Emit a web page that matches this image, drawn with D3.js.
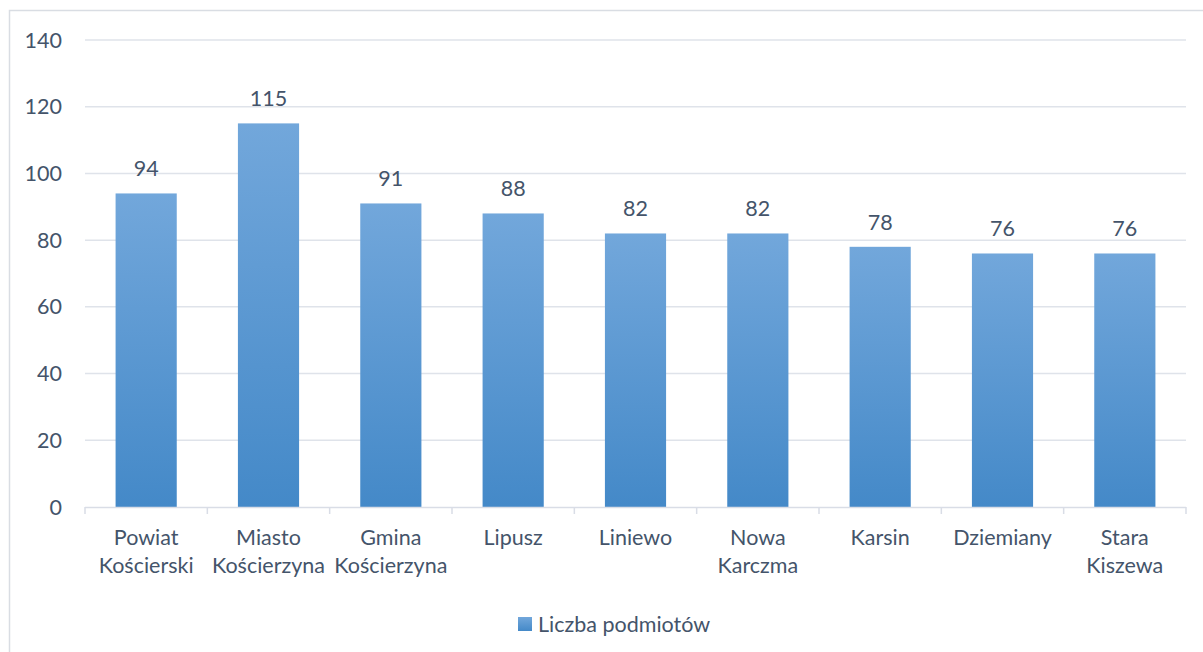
<!DOCTYPE html>
<html>
<head>
<meta charset="utf-8">
<script src="https://cdn.jsdelivr.net/npm/d3@7"></script>
<style>
  body { margin: 0; background: #fff; }
  text { font-family: Lato, "Noto Sans", sans-serif; fill: #44546a; }
</style>
</head>
<body>
<svg id="chart" width="1203" height="652"></svg>
<script>
// data
const categories = [
  ["Powiat", "Kościerski"],
  ["Miasto", "Kościerzyna"],
  ["Gmina", "Kościerzyna"],
  ["Lipusz"],
  ["Liniewo"],
  ["Nowa", "Karczma"],
  ["Karsin"],
  ["Dziemiany"],
  ["Stara", "Kiszewa"]
];
const values = [94, 115, 91, 88, 82, 82, 78, 76, 76];
const yTicks = [0, 20, 40, 60, 80, 100, 120, 140];
const seriesName = "Liczba podmiotów";

const svg = d3.select("#chart");
const plotL = 85, plotR = 1186, plotT = 40, plotB = 507;
const fs = 21.5;

// outer frame
svg.append("rect")
  .attr("x", 9.5).attr("y", 10.5)
  .attr("width", 1203).attr("height", 660)
  .attr("fill", "none").attr("stroke", "#d9dde3").attr("stroke-width", 1.5);

const grad = svg.append("defs").append("linearGradient")
  .attr("id", "barGrad").attr("x1", 0).attr("y1", 0).attr("x2", 0).attr("y2", 1);
grad.append("stop").attr("offset", "0%").attr("stop-color", "#72a7db");
grad.append("stop").attr("offset", "100%").attr("stop-color", "#4489c8");

const idx = d3.range(values.length);
const x = d3.scaleBand().domain(idx).range([plotL, plotR]).paddingInner(0.5).paddingOuter(0.25);
const xTick = d3.scaleBand().domain(idx).range([plotL, plotR]);
const y = d3.scaleLinear().domain([0, 140]).range([plotB, plotT]);

// gridlines
svg.append("g").selectAll("line")
  .data(yTicks.filter(d => d > 0))
  .join("line")
  .attr("x1", plotL).attr("x2", plotR)
  .attr("y1", d => y(d)).attr("y2", d => y(d))
  .attr("stroke", "#dfe3ea").attr("stroke-width", 1.5);

// y labels
svg.append("g").selectAll("text")
  .data(yTicks)
  .join("text")
  .attr("x", 62).attr("y", d => y(d))
  .attr("dy", "0.35em")
  .attr("text-anchor", "end")
  .attr("font-size", fs)
  .text(d => d);

// bars
svg.append("g").selectAll("rect")
  .data(values)
  .join("rect")
  .attr("x", (d, i) => x(i))
  .attr("y", d => y(d))
  .attr("width", x.bandwidth())
  .attr("height", d => y(0) - y(d))
  .attr("fill", "url(#barGrad)");

// value labels
svg.append("g").selectAll("text")
  .data(values)
  .join("text")
  .attr("x", (d, i) => x(i) + x.bandwidth() / 2)
  .attr("y", d => y(d) - 17)
  .attr("text-anchor", "middle")
  .attr("font-size", fs)
  .text(d => d);

// x axis line and ticks
const ax = svg.append("g");
ax.append("line")
  .attr("x1", plotL).attr("x2", plotR)
  .attr("y1", plotB + 0.5).attr("y2", plotB + 0.5)
  .attr("stroke", "#d9dde6").attr("stroke-width", 1.5);
ax.selectAll("line.tick")
  .data(d3.range(values.length + 1))
  .join("line")
  .attr("class", "tick")
  .attr("x1", i => i < values.length ? xTick(i) : plotR)
  .attr("x2", i => i < values.length ? xTick(i) : plotR)
  .attr("y1", plotB).attr("y2", plotB + 7)
  .attr("stroke", "#d9dde6").attr("stroke-width", 1.5);

// category labels
const cat = svg.append("g").selectAll("text")
  .data(categories)
  .join("text")
  .attr("x", (d, i) => xTick(i) + xTick.bandwidth() / 2)
  .attr("y", 545)
  .attr("text-anchor", "middle")
  .attr("font-size", fs);
cat.selectAll("tspan")
  .data(d => d)
  .join("tspan")
  .attr("x", function() { return d3.select(this.parentNode).attr("x"); })
  .attr("dy", (d, i) => i === 0 ? 0 : 28)
  .text(d => d);

// legend
const lg = svg.append("g").attr("transform", "translate(518,617)");
lg.append("rect").attr("width", 14).attr("height", 14).attr("fill", "url(#barGrad)");
lg.append("text").attr("x", 20).attr("y", 7).attr("dy", "0.35em")
  .attr("font-size", fs).text(seriesName);
</script>
</body>
</html>
